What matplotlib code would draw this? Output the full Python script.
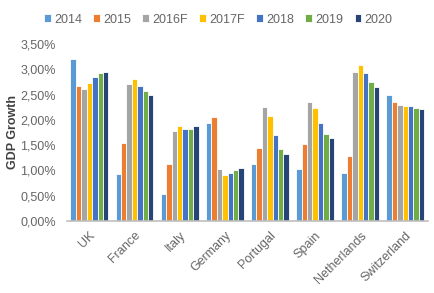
import matplotlib
matplotlib.use("Agg")
import matplotlib.pyplot as plt
import numpy as np

plt.rcParams['font.family'] = ['Liberation Sans', 'DejaVu Sans']

countries = ["UK", "France", "Italy", "Germany", "Portugal", "Spain", "Netherlands", "Switzerland"]
years = ["2014", "2015", "2016F", "2017F", "2018", "2019", "2020"]

v2014 = [3.20, 0.93, 0.53, 1.94, 1.13, 1.03, 0.95, 2.50]
v2015 = [2.67, 1.55, 1.12, 2.06, 1.44, 1.53, 1.28, 2.35]
v2016 = [2.61, 2.71, 1.78, 1.03, 2.25, 2.35, 2.94, 2.30]
v2017 = [2.73, 2.80, 1.87, 0.90, 2.08, 2.23, 3.09, 2.28]
v2018 = [2.85, 2.67, 1.81, 0.95, 1.69, 1.93, 2.92, 2.27]
v2019 = [2.92, 2.56, 1.81, 1.00, 1.42, 1.72, 2.75, 2.24]
v2020 = [2.94, 2.50, 1.88, 1.04, 1.32, 1.64, 2.65, 2.21]
series = [v2014, v2015, v2016, v2017, v2018, v2019, v2020]

colors = ["#5B9BD5", "#ED7D31", "#A5A5A5", "#FFC000", "#4472C4", "#70AD47", "#264478"]

fig = plt.figure(figsize=(4.34, 2.93), dpi=100)
ax = fig.add_axes([0.154, 0.246, 0.832, 0.604])

x = np.arange(len(countries))
n = len(series)
bw = 0.84 / n
for i, (vals, c, lab) in enumerate(zip(series, colors, years)):
    ax.bar(x - 0.42 + bw * (i + 0.5), vals, width=bw, color=c, edgecolor="white",
           linewidth=0.6, label=lab)

ax.set_xlim(-0.5, len(countries) - 0.5)
ax.set_ylim(0, 3.5)
ax.set_yticks(np.arange(0, 3.51, 0.5))
ax.set_yticklabels([f"{t:.2f}%".replace(".", ",") for t in np.arange(0, 3.51, 0.5)])
ax.set_xticks(x)
ax.set_xticklabels(countries, rotation=45, ha="right", rotation_mode="anchor")

for s in ["top", "right", "left"]:
    ax.spines[s].set_visible(False)
ax.spines["bottom"].set_color("#BFBFBF")
ax.spines["bottom"].set_linewidth(1.2)
ax.tick_params(axis="both", length=0, labelsize=9, colors="#666666")
ax.tick_params(axis="y", pad=8)
ax.tick_params(axis="x", pad=6)

ax.set_ylabel("GDP Growth", fontsize=9, fontweight="bold", color="#404040")
ax.yaxis.set_label_coords(-0.132, 0.5)

fig.legend(loc="center", bbox_to_anchor=(0.503, 0.933), ncol=7, frameon=False,
           fontsize=9, handlelength=0.55, handleheight=0.55, handletextpad=0.25,
           columnspacing=0.9, labelcolor="#666666")

fig.savefig("out.png", dpi=100)
